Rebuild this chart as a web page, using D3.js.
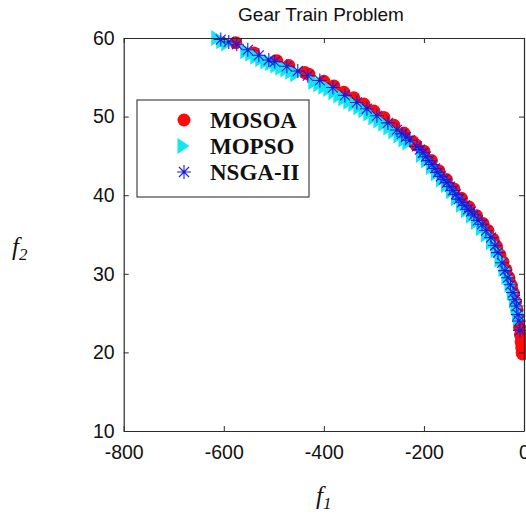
<!DOCTYPE html>
<html><head><meta charset="utf-8">
<script src="https://cdn.jsdelivr.net/npm/d3@7"></script>
<style>body{margin:0;background:#fff;overflow:hidden}svg{display:block}</style>
</head><body>
<svg id="c" width="526" height="515"></svg>
<script>
const title = "Gear Train Problem";
const seriesNames = ["MOSOA", "MOPSO", "NSGA-II"];
const xTicks = [-800, -600, -400, -200, 0];
const yTicks = [10, 20, 30, 40, 50, 60];

const mosoa = [[-576,59.4],[-540,58.1],[-494,57.1],[-470,56.5],[-438,55.6],[-430,55.4],[-400,54.5],[-380,53.9],[-360,53.1],[-340,52.4],[-320,51.6],[-300,50.7],[-280,49.9],[-260,48.9],[-240,47.9],[-222,46.8],[-216,46.4],[-200,45.6],[-185,44.4],[-170,43.1],[-155,42.0],[-140,40.8],[-125,39.6],[-110,38.5],[-95,37.4],[-82,36.4],[-72,35.5],[-62,34.4],[-55,33.5],[-48,32.4],[-42,31.5],[-36,30.5],[-30,29.5],[-25,28.5],[-21,27.5],[-17,26.4],[-14,25.4],[-11,24.2],[-9,23.2],[-7,22.2],[-5.5,21.3],[-4.5,20.6],[-3.5,20.0],[-3,19.8]];
const mopso = [[-614,60.0],[-604,59.6],[-594,59.3],[-556,58.3],[-546,58.0],[-536,57.6],[-526,57.3],[-516,57.0],[-506,56.8],[-496,56.5],[-486,56.2],[-476,56.0],[-466,55.7],[-456,55.4],[-420,54.4],[-410,54.1],[-400,53.8],[-390,53.5],[-380,53.1],[-370,52.7],[-360,52.3],[-350,51.9],[-340,51.6],[-330,51.2],[-320,50.8],[-310,50.4],[-300,49.9],[-290,49.5],[-280,49.1],[-270,48.6],[-260,48.1],[-250,47.6],[-240,47.1],[-232,46.7],[-205,45.1],[-195,44.4],[-185,43.6],[-175,42.8],[-165,42.0],[-155,41.3],[-145,40.5],[-135,39.6],[-125,38.8],[-115,38.1],[-105,37.4],[-95,36.6],[-85,35.8],[-75,35.0],[-65,34.0],[-56,33.0],[-48,31.8],[-40,30.6],[-34,29.6],[-28,28.6],[-23,27.6],[-19,26.6],[-16,25.8],[-13,25.0],[-11,24.3]];
const nsga2 = [[-606,59.8],[-590,59.5],[-574,59.2],[-552,58.5],[-530,57.8],[-510,57.2],[-498,57.0],[-474,56.4],[-452,55.8],[-432,55.2],[-408,54.6],[-382,53.7],[-358,52.7],[-334,51.8],[-314,51.0],[-294,50.1],[-272,49.2],[-254,48.3],[-244,47.8],[-236,47.4],[-228,47.0],[-214,46.2],[-208,45.8],[-202,45.4],[-196,44.9],[-190,44.4],[-184,43.9],[-178,43.4],[-172,42.9],[-166,42.4],[-160,42.0],[-154,41.6],[-148,41.1],[-142,40.6],[-136,40.1],[-130,39.5],[-124,39.1],[-118,38.7],[-112,38.2],[-106,37.9],[-100,37.5],[-92,36.8],[-84,36.3],[-76,35.5],[-66,34.6],[-58,33.6],[-52,32.7],[-44,31.4],[-38,30.4],[-32,29.5],[-27,28.6],[-22,27.6],[-18,26.7],[-15,25.9],[-12,24.8],[-10,24.0],[-8,22.8]];

const svg = d3.select("#c");
const x = d3.scaleLinear().domain([-800, 0]).range([123.7, 524]);
const y = d3.scaleLinear().domain([10, 60]).range([431, 38]);
const axisColor = "#2a2a2a";
const tickFont = "Liberation Sans, Arial, sans-serif";

const colors = {red: "#ff0a0a", cyan: "#12e6f2", blue: "#1a1ae0"};
function circle(g, px, py) { g.append("circle").attr("cx", px).attr("cy", py).attr("r", 6.5).attr("fill", colors.red); }
function tri(g, px, py) {
  g.append("path").attr("d", `M${px-5.5},${py-8}L${px+6.5},${py}L${px-5.5},${py+8}Z`).attr("fill", colors.cyan);
}
function star(g, px, py) {
  const s = 7, d = 5;
  g.append("path").attr("d",
    `M${px-s},${py}L${px+s},${py}M${px},${py-s}L${px},${py+s}M${px-d},${py-d}L${px+d},${py+d}M${px-d},${py+d}L${px+d},${py-d}`)
    .attr("stroke", colors.blue).attr("stroke-width", 1.1).attr("fill", "none");
}

const plot = svg.append("g");
const gR = plot.append("g"), gC = plot.append("g"), gB = plot.append("g");
mosoa.forEach(d => circle(gR, x(d[0]), y(d[1])));
mopso.forEach(d => tri(gC, x(d[0]), y(d[1])));
nsga2.forEach(d => star(gB, x(d[0]), y(d[1])));

function styleAxis(g) {
  g.selectAll("path.domain").attr("stroke", axisColor).attr("stroke-width", 1.2);
  g.selectAll(".tick line").attr("stroke", axisColor).attr("stroke-width", 1);
  g.selectAll(".tick text").attr("fill", "#111").style("font-family", tickFont).style("font-size", "19.5px");
}
const fmt = d => String(d);
const xb = svg.append("g").attr("transform", `translate(0,${y(10)})`)
  .call(d3.axisBottom(x).tickValues(xTicks).tickSize(-5).tickSizeOuter(0).tickPadding(14).tickFormat(fmt));
styleAxis(xb);
const xt = svg.append("g").attr("transform", `translate(0,${y(60)})`)
  .call(d3.axisTop(x).tickValues(xTicks).tickSize(-5).tickSizeOuter(0).tickFormat(""));
styleAxis(xt);
const yl = svg.append("g").attr("transform", `translate(${x(-800)},0)`)
  .call(d3.axisLeft(y).tickValues(yTicks).tickSize(-5).tickSizeOuter(0).tickPadding(9).tickFormat(fmt));
styleAxis(yl);
const yr = svg.append("g").attr("transform", `translate(${x(0)},0)`)
  .call(d3.axisRight(y).tickValues(yTicks).tickSize(-5).tickSizeOuter(0).tickFormat(""));
styleAxis(yr);

svg.append("text").attr("x", 321).attr("y", 21).attr("text-anchor", "middle")
  .style("font-family", tickFont).style("font-size", "19px").attr("fill", "#111").text(title);

const lab = svg.append("text").attr("x", 316).attr("y", 504)
  .style("font-family", "Liberation Serif, Times New Roman, serif").style("font-style", "italic").style("font-size", "25px").attr("fill", "#111");
lab.append("tspan").text("f");
lab.append("tspan").attr("dy", 5).style("font-size", "17px").text("1");
const lab2 = svg.append("text").attr("x", 12).attr("y", 255)
  .style("font-family", "Liberation Serif, Times New Roman, serif").style("font-style", "italic").style("font-size", "25px").attr("fill", "#111");
lab2.append("tspan").text("f");
lab2.append("tspan").attr("dy", 5).style("font-size", "17px").text("2");

const lg = svg.append("g");
lg.append("rect").attr("x", 137).attr("y", 100).attr("width", 172).attr("height", 97)
  .attr("fill", "#fff").attr("stroke", "#444").attr("stroke-width", 1.2);
const ly = [120, 146, 172];
circle(lg, 184, ly[0]); tri(lg, 183, ly[1]); star(lg, 184, ly[2]);
seriesNames.forEach((n, i) => {
  lg.append("text").attr("x", 210).attr("y", ly[i]).attr("dy", "0.35em")
    .style("font-family", "Liberation Serif, Times New Roman, serif").style("font-weight", "bold").style("font-size", "23px")
    .attr("fill", "#111").text(n);
});
</script>
</body></html>
